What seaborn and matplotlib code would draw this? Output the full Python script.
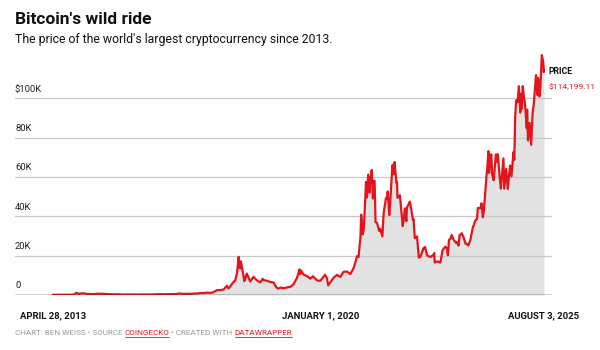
import pandas as pd
import seaborn as sns
import matplotlib.pyplot as plt

# Bitcoin price (USD)
dates = [
    '2013-04-28', '2013-06-01', '2013-07-01', '2013-08-01', '2013-09-01', '2013-10-01',
    '2013-11-01', '2013-11-30', '2013-12-18', '2014-01-01', '2014-02-01', '2014-03-01',
    '2014-04-01', '2014-05-01', '2014-06-01', '2014-07-01', '2014-08-01', '2014-09-01',
    '2014-10-01', '2014-11-01', '2014-12-01', '2015-01-01', '2015-01-15', '2015-02-01',
    '2015-03-01', '2015-04-01', '2015-05-01', '2015-06-01', '2015-07-01', '2015-08-01',
    '2015-09-01', '2015-10-01', '2015-11-01', '2015-12-01', '2016-01-01', '2016-02-01',
    '2016-03-01', '2016-04-01', '2016-05-01', '2016-06-01', '2016-06-17', '2016-07-01',
    '2016-08-01', '2016-09-01', '2016-10-01', '2016-11-01', '2016-12-01', '2017-01-01',
    '2017-02-01', '2017-03-01', '2017-04-01', '2017-05-01', '2017-06-01', '2017-07-01',
    '2017-08-01', '2017-09-01', '2017-09-15', '2017-10-01', '2017-11-01', '2017-11-15',
    '2017-12-01', '2017-12-17', '2017-12-22', '2018-01-01', '2018-01-06', '2018-02-01',
    '2018-02-06', '2018-03-01', '2018-04-01', '2018-05-01', '2018-06-01', '2018-07-01',
    '2018-07-25', '2018-08-01', '2018-09-01', '2018-10-01', '2018-11-01', '2018-11-25',
    '2018-12-15', '2019-01-01', '2019-02-01', '2019-03-01', '2019-04-01', '2019-05-01',
    '2019-06-01', '2019-06-26', '2019-07-01', '2019-07-10', '2019-08-01', '2019-09-01',
    '2019-10-01', '2019-10-26', '2019-11-01', '2019-12-01', '2020-01-01', '2020-02-01',
    '2020-02-13', '2020-03-01', '2020-03-13', '2020-04-01', '2020-05-01', '2020-06-01',
    '2020-07-01', '2020-08-01', '2020-09-01', '2020-10-01', '2020-11-01', '2020-12-01',
    '2020-12-15', '2021-01-01', '2021-01-08', '2021-01-22', '2021-02-01', '2021-02-21',
    '2021-03-01', '2021-03-13', '2021-03-25', '2021-04-01', '2021-04-14', '2021-04-25',
    '2021-05-01', '2021-05-10', '2021-05-19', '2021-06-01', '2021-06-22', '2021-07-01',
    '2021-07-20', '2021-08-01', '2021-08-22', '2021-09-01', '2021-09-07', '2021-09-21',
    '2021-10-01', '2021-10-20', '2021-11-01', '2021-11-09', '2021-11-25', '2021-12-01',
    '2021-12-05', '2021-12-27', '2022-01-01', '2022-01-22', '2022-02-01', '2022-02-10',
    '2022-02-24', '2022-03-01', '2022-03-28', '2022-04-01', '2022-04-26', '2022-05-01',
    '2022-05-12', '2022-06-01', '2022-06-18', '2022-07-01', '2022-07-30', '2022-08-01',
    '2022-08-14', '2022-09-01', '2022-10-01', '2022-11-01', '2022-11-05', '2022-11-10',
    '2022-12-01', '2022-12-30', '2023-01-01', '2023-01-20', '2023-02-01', '2023-02-16',
    '2023-03-01', '2023-03-10', '2023-03-20', '2023-04-01', '2023-04-14', '2023-05-01',
    '2023-05-25', '2023-06-01', '2023-06-15', '2023-06-25', '2023-07-01', '2023-07-14',
    '2023-08-01', '2023-08-18', '2023-09-01', '2023-09-11', '2023-10-01', '2023-10-24',
    '2023-11-01', '2023-11-15', '2023-12-01', '2023-12-08', '2024-01-01', '2024-01-11',
    '2024-01-23', '2024-02-01', '2024-02-28', '2024-03-01', '2024-03-14', '2024-03-20',
    '2024-04-01', '2024-04-09', '2024-04-17', '2024-05-01', '2024-05-21', '2024-06-01',
    '2024-06-07', '2024-06-24', '2024-07-05', '2024-07-29', '2024-08-05', '2024-08-23',
    '2024-09-06', '2024-09-27', '2024-10-10', '2024-10-29', '2024-11-05', '2024-11-13',
    '2024-11-22', '2024-12-05', '2024-12-17', '2024-12-30', '2025-01-06', '2025-01-13',
    '2025-01-21', '2025-02-01', '2025-02-10', '2025-02-27', '2025-03-02', '2025-03-10',
    '2025-03-25', '2025-04-08', '2025-04-22', '2025-05-01', '2025-05-10', '2025-05-22',
    '2025-06-05', '2025-06-10', '2025-06-22', '2025-07-01', '2025-07-11', '2025-07-14',
    '2025-07-22', '2025-07-28', '2025-08-01', '2025-08-03',
]
prices = [
    135, 129, 90, 105, 140, 125,
    200, 1100, 520, 750, 850, 560,
    480, 450, 630, 640, 590, 480,
    390, 330, 380, 315, 200, 225,
    260, 245, 235, 225, 260, 280,
    230, 240, 320, 380, 430, 370,
    435, 415, 450, 540, 750, 670,
    620, 575, 610, 730, 750, 1000,
    990, 1200, 1080, 1400, 2450, 2500,
    2750, 4700, 3300, 4400, 6700, 7300,
    10900, 19400, 14000, 13500, 17100, 9100,
    7000, 10900, 6900, 9200, 7500, 6400,
    8200, 7600, 7200, 6600, 6350, 3900,
    3200, 3800, 3450, 3850, 4100, 5350,
    8600, 13000, 10600, 12300, 10400, 9600,
    8300, 9500, 9200, 7400, 7200, 9400,
    10300, 8600, 4900, 6400, 8800, 10200,
    9200, 11800, 11900, 10600, 13800, 19700,
    19300, 29400, 40800, 30800, 33500, 57500,
    49600, 61200, 52000, 58800, 63500, 49000,
    57800, 58000, 37000, 36700, 32500, 33600,
    29800, 41500, 49300, 48800, 52600, 40600,
    48200, 66000, 61300, 67600, 57000, 57200,
    49400, 50700, 47700, 35000, 38700, 44000,
    37500, 44400, 47400, 46300, 38100, 38500,
    28900, 29800, 19000, 19300, 23800, 23300,
    24400, 20100, 19300, 20500, 21300, 16500,
    17100, 16500, 16600, 22600, 23700, 24600,
    23600, 20200, 28000, 28500, 30500, 28100,
    26400, 26800, 25100, 30500, 30600, 31400,
    29200, 26100, 25900, 25100, 27900, 34500,
    35400, 37800, 38700, 44200, 44100, 46600,
    39500, 42600, 62500, 62400, 73100, 62000,
    69700, 71500, 61300, 58300, 71400, 67700,
    71600, 60300, 54000, 69400, 54000, 64100,
    53900, 65800, 60300, 72700, 68600, 90400,
    98900, 98000, 106100, 92700, 102200, 94500,
    106100, 100600, 97400, 84700, 94200, 78500,
    87500, 76300, 93400, 96500, 103000, 111700,
    101600, 110300, 100900, 105700, 117500, 121900,
    119900, 118000, 113300, 114199,
]

y_ticks = [0, 20000, 40000, 60000, 80000, 100000]
y_labels = ['0', '20K', '40K', '60K', '80K', '$100K']
x_ticks = ['2013-04-28', '2020-01-01', '2025-08-03']
x_labels = ['APRIL 28, 2013', 'JANUARY 1, 2020', 'AUGUST 3, 2025']

df = pd.DataFrame({'date': pd.to_datetime(dates), 'price': prices})

sns.set_style('white')
plt.rcParams['font.family'] = ['Roboto', 'DejaVu Sans']

red = '#e3141b'
fig = plt.figure(figsize=(6, 3.5), dpi=100)
ax = fig.add_axes([15 / 600, 55 / 350, 537 / 600, 246 / 350])

ax.fill_between(df['date'], df['price'], 0, color='#e2e2e2', lw=0, zorder=1)
sns.lineplot(data=df, x='date', y='price', color=red, lw=1.6, ax=ax, zorder=3)

ax.set_xlim(pd.Timestamp('2012-05-16'), pd.Timestamp('2025-10-15'))
ax.set_ylim(0, 125000)

# gridlines with labels sitting above them
for v, lab in zip(y_ticks, y_labels):
    if v > 0:
        ax.axhline(v, color='#c8c8c8', lw=0.9, zorder=2)
    ax.text(0, v + 2300, lab, transform=ax.get_yaxis_transform(), ha='left',
            va='bottom', fontsize=6.8, color='#222222')
ax.axhline(0, color='#111111', lw=1.0, zorder=4)

ax.set_yticks([])
ax.set_xticks(pd.to_datetime(x_ticks))
ax.set_xticklabels(x_labels, fontsize=6.8, fontweight='bold', color='#111111')
ax.tick_params(axis='x', length=4, width=0.8, color='#111111', pad=8)
ax.set_xlabel('')
ax.set_ylabel('')
for s in ax.spines.values():
    s.set_visible(False)

# end label
last_x = df['date'].iloc[-1] + pd.Timedelta(days=45)
ax.text(last_x, 113500, 'PRICE', fontsize=6.3, fontweight='bold', color='#111111',
        ha='left', va='center')
ax.text(last_x, 106000, '$114,199.11', fontsize=6.1, color=red, ha='left', va='center')

# title and subtitle
fig.text(15 / 600, 1 - 20 / 350, "Bitcoin's wild ride", fontsize=12.5,
         fontweight='bold', color='#111111', va='center', ha='left')
fig.text(15 / 600, 1 - 40 / 350,
         "The price of the world's largest cryptocurrency since 2013.",
         fontsize=8.8, color='#111111', va='center', ha='left')

# footer with coloured links
pieces = [('CHART: BEN WEISS \u2022 SOURCE ', '#9a9a9a', False),
          ('COINGECKO', red, True),
          (' \u2022 CREATED WITH ', '#9a9a9a', False),
          ('DATAWRAPPER', red, True)]
fig.canvas.draw()
renderer = fig.canvas.get_renderer()
xpos = 15
for txt, col, under in pieces:
    t = fig.text(xpos / 600, 1 - 333 / 350, txt, fontsize=5.9, color=col,
                 va='center', ha='left')
    bb = t.get_window_extent(renderer=renderer)
    if under:
        fig.add_artist(plt.Line2D([bb.x0 / 600, bb.x1 / 600],
                                  [(bb.y0 - 1) / 350, (bb.y0 - 1) / 350],
                                  color=col, lw=0.6))
    xpos = bb.x1

fig.savefig('out.png', dpi=100)
